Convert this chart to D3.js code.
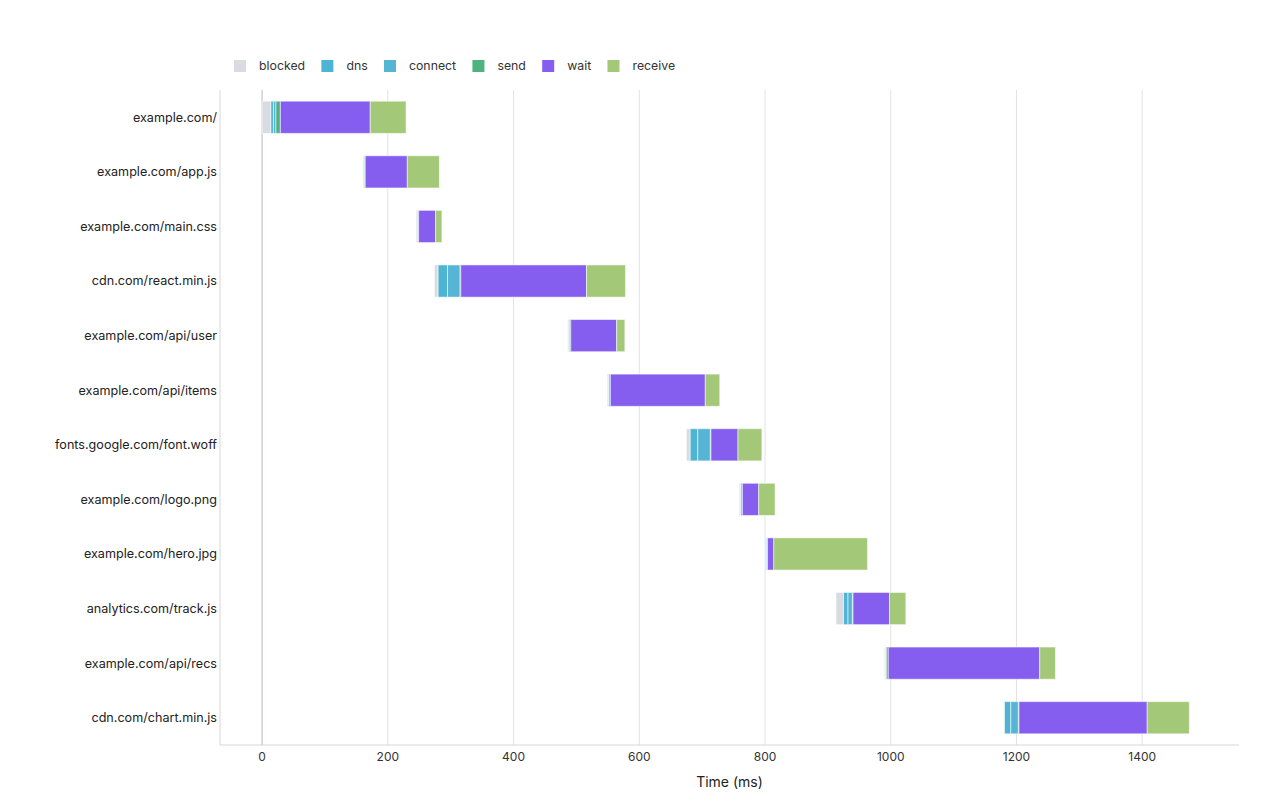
<!DOCTYPE html>
<html>
<head>
<meta charset="utf-8">
<script src="https://cdn.jsdelivr.net/npm/d3@7"></script>
<style>
  body { margin: 0; background: #fff; font-family: Inter, "Helvetica Neue", Arial, sans-serif; }
  #chart { width: 1280px; height: 800px; }
</style>
</head>
<body>
<div id="chart"></div>
<script>
// request names, top to bottom
const urls = ['example.com/', 'example.com/app.js', 'example.com/main.css', 'cdn.com/react.min.js',
    'example.com/api/user', 'example.com/api/items', 'fonts.google.com/font.woff', 'example.com/logo.png',
    'example.com/hero.jpg', 'analytics.com/track.js', 'example.com/api/recs', 'cdn.com/chart.min.js'];

// timings in ms
const startTimes = [0, 160, 245, 274, 486, 549, 675, 759, 800, 913, 990, 1180];
const blocked = [14, 2, 2, 6, 2, 2, 6, 2, 2, 12, 2, 1];
const dns     = [4, 0.5, 0.5, 15, 0.5, 0.5, 12, 0.5, 0.5, 7, 0.5, 10];
const connect = [4, 0.5, 0.5, 20, 0.5, 0.5, 20, 0.5, 0.5, 7, 0.5, 12];
const send    = [7, 1, 1, 1, 2, 2, 1, 2, 1, 1, 3, 1];
const wait    = [143, 67, 27, 200, 73, 151, 43, 26, 10, 58, 241, 204];
const receive = [57, 51, 10, 62, 13, 23, 38, 26, 149, 26, 25, 67];

const phases = ['blocked', 'dns', 'connect', 'send', 'wait', 'receive'];
const phaseColors = ['#d9dbe2', '#4fb3d3', '#56b4d4', '#4db381', '#855ef0', '#a3c878'];
const xTicks = [0, 200, 400, 600, 800, 1000, 1200, 1400];

const phaseValues = [blocked, dns, connect, send, wait, receive];

const width = 1280;
const height = 800;
const margin = { top: 90, right: 41, bottom: 55, left: 220 };

const svg = d3.select('#chart').append('svg')
    .attr('width', width)
    .attr('height', height);

const x = d3.scaleLinear()
    .domain([-67, 1554])
    .range([margin.left, width - margin.right]);

const y = d3.scaleBand()
    .domain(urls)
    .range([margin.top, height - margin.bottom])
    .paddingInner(0.41)
    .paddingOuter(0.205);

const color = d3.scaleOrdinal().domain(phases).range(phaseColors);

// gridlines
svg.append('g')
    .selectAll('line')
    .data(xTicks)
    .enter().append('line')
    .attr('x1', d => x(d))
    .attr('x2', d => x(d))
    .attr('y1', margin.top)
    .attr('y2', height - margin.bottom)
    .attr('stroke', d => d === 0 ? '#cfd0d6' : '#e2e2e6')
    .attr('stroke-width', d => d === 0 ? 1.5 : 1);

// axis lines
svg.append('line')
    .attr('x1', margin.left).attr('x2', margin.left)
    .attr('y1', margin.top).attr('y2', height - margin.bottom)
    .attr('stroke', '#d6d6da');
svg.append('line')
    .attr('x1', margin.left).attr('x2', width - margin.right)
    .attr('y1', height - margin.bottom).attr('y2', height - margin.bottom)
    .attr('stroke', '#d6d6da');

// build segments
const segments = [];
urls.forEach((url, i) => {
    let t = startTimes[i];
    phases.forEach((p, j) => {
        const v = phaseValues[j][i];
        segments.push({ url: url, phase: p, x0: t, x1: t + v });
        t += v;
    });
});

svg.append('g')
    .selectAll('rect')
    .data(segments.filter(d => d.x1 > d.x0))
    .enter().append('rect')
    .attr('x', d => x(d.x0))
    .attr('y', d => y(d.url))
    .attr('width', d => x(d.x1) - x(d.x0))
    .attr('height', y.bandwidth())
    .attr('fill', d => color(d.phase))
    .attr('stroke', 'rgba(255,255,255,0.55)')
    .attr('stroke-width', 1);

// y labels
svg.append('g')
    .selectAll('text')
    .data(urls)
    .enter().append('text')
    .attr('x', margin.left - 3)
    .attr('y', d => y(d) + y.bandwidth() / 2)
    .attr('dy', '0.35em')
    .attr('text-anchor', 'end')
    .attr('font-size', 12.6)
    .attr('fill', '#222')
    .text(d => d);

// x tick labels
svg.append('g')
    .selectAll('text')
    .data(xTicks)
    .enter().append('text')
    .attr('x', d => x(d))
    .attr('y', height - margin.bottom + 16)
    .attr('text-anchor', 'middle')
    .attr('font-size', 12)
    .attr('fill', '#333')
    .text(d => d);

svg.append('text')
    .attr('x', (margin.left + width - margin.right) / 2)
    .attr('y', 787)
    .attr('text-anchor', 'middle')
    .attr('font-size', 14)
    .attr('fill', '#222')
    .text('Time (ms)');

// legend
const legend = svg.append('g').attr('transform', 'translate(234,66)');
let lx = 0;
phases.forEach((p, i) => {
    const item = legend.append('g').attr('transform', `translate(${lx},0)`);
    item.append('rect')
        .attr('x', 0).attr('y', -6)
        .attr('width', 12).attr('height', 12)
        .attr('fill', phaseColors[i]);
    const label = item.append('text')
        .attr('x', 25).attr('y', 0)
        .attr('dy', '0.35em')
        .attr('font-size', 12.3)
        .attr('fill', '#333')
        .text(p);
    lx += 25 + label.node().getComputedTextLength() + 16.3;
});
</script>
</body>
</html>
